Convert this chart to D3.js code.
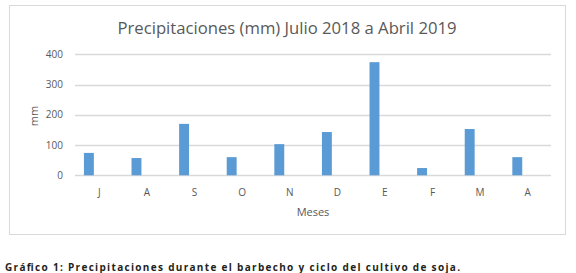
<!DOCTYPE html>
<html>
<head>
<meta charset="utf-8">
<script src="https://cdn.jsdelivr.net/npm/d3@7"></script>
<style>
  body { margin: 0; background: #fff; }
  text { font-family: "Open Sans", "Liberation Sans", sans-serif; }
</style>
</head>
<body>
<svg id="canvas" width="576" height="273"></svg>
<script>
// months Jul 2018 -> Apr 2019
var months = ['J', 'A', 'S', 'O', 'N', 'D', 'E', 'F', 'M', 'A2'];
var monthLabels = ['J', 'A', 'S', 'O', 'N', 'D', 'E', 'F', 'M', 'A'];
var rain = [74, 57, 170, 60, 103, 143, 374, 24, 153, 60];
var yTicks = [0, 100, 200, 300, 400];

var svg = d3.select('#canvas');

// chart frame
svg.append('rect')
  .attr('x', 9.5).attr('y', 5.5)
  .attr('width', 556).attr('height', 229)
  .attr('fill', '#fff')
  .attr('stroke', '#d9d9d9');

var x = d3.scaleBand().domain(months).range([75, 551]);
var y = d3.scaleLinear().domain([0, 400]).range([175.3, 54.3]);

// bar sits left of the band centre (like an excel clustered column w/ one series)
var inner = d3.scaleBand().domain(['rain', 'none']).range([0, x.bandwidth()]).paddingInner(0.5).paddingOuter(0.45);

// grid
svg.append('g').selectAll('line')
  .data(yTicks)
  .enter().append('line')
  .attr('x1', 75).attr('x2', 551)
  .attr('y1', function(d) { return Math.round(y(d)) + 0.5; })
  .attr('y2', function(d) { return Math.round(y(d)) + 0.5; })
  .attr('stroke', '#d9d9d9')
  .attr('stroke-width', 1.3);

// y axis labels
svg.append('g').selectAll('text')
  .data(yTicks)
  .enter().append('text')
  .attr('x', 63)
  .attr('y', function(d) { return y(d); })
  .attr('dy', '0.35em')
  .attr('text-anchor', 'end')
  .attr('font-size', 10)
  .attr('fill', '#595959')
  .text(function(d) { return d; });

// bars
svg.append('g').selectAll('rect')
  .data(rain)
  .enter().append('rect')
  .attr('x', function(d, i) { return x(months[i]) + inner('rain'); })
  .attr('width', inner.bandwidth())
  .attr('y', function(d) { return y(d); })
  .attr('height', function(d) { return y(0) - y(d); })
  .attr('fill', '#5b9bd5');

// x labels
svg.append('g').selectAll('text')
  .data(months)
  .enter().append('text')
  .attr('x', function(d) { return x(d) + x.bandwidth() / 2 + 0.5; })
  .attr('y', 192)
  .attr('dy', '0.35em')
  .attr('text-anchor', 'middle')
  .attr('font-size', 10)
  .attr('fill', '#595959')
  .text(function(d, i) { return monthLabels[i]; });

// axis titles
svg.append('text')
  .attr('x', 313).attr('y', 212)
  .attr('dy', '0.35em')
  .attr('text-anchor', 'middle')
  .attr('font-size', 11)
  .attr('fill', '#595959')
  .text('Meses');

svg.append('text')
  .attr('transform', 'translate(34,116) rotate(-90)')
  .attr('dy', '0.35em')
  .attr('text-anchor', 'middle')
  .attr('font-size', 11)
  .attr('fill', '#595959')
  .text('mm');

// chart title
svg.append('text')
  .attr('x', 287).attr('y', 28)
  .attr('dy', '0.35em')
  .attr('text-anchor', 'middle')
  .attr('font-size', 16)
  .attr('fill', '#595959')
  .attr('textLength', 339)
  .attr('lengthAdjust', 'spacingAndGlyphs')
  .text('Precipitaciones (mm) Julio 2018 a Abril 2019');

// caption under the figure
svg.append('text')
  .attr('x', 5).attr('y', 267)
  .attr('dy', '0.35em')
  .attr('font-size', 10)
  .attr('font-weight', 'bold')
  .attr('fill', '#231f20')
  .attr('textLength', 455)
  .attr('lengthAdjust', 'spacing')
  .text('Gráfico 1: Precipitaciones  durante  el  barbecho  y ciclo  del cultivo  de  soja.');
</script>
</body>
</html>
